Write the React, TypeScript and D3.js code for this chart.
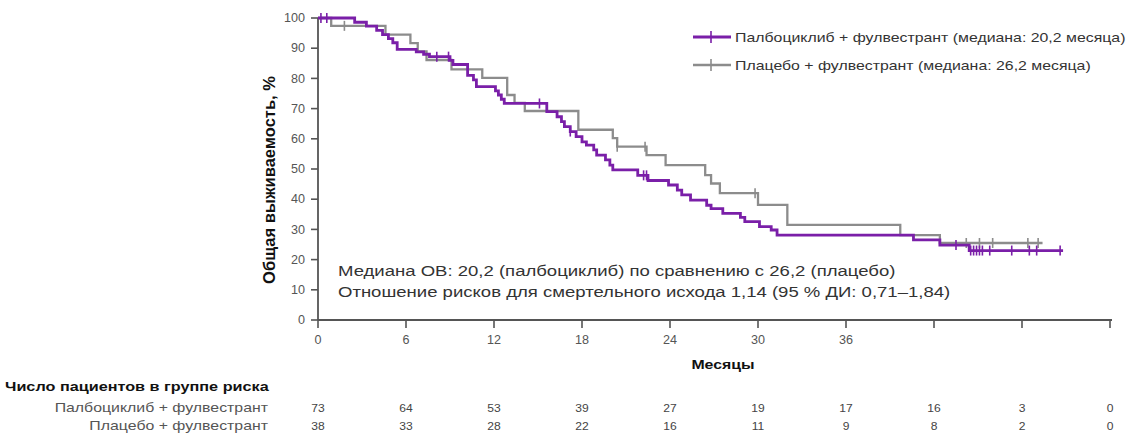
import React from 'react';
import * as d3 from 'd3';

// Kaplan-Meier steps (month, survival %)
const palboTimes = [0, 2.5, 3.3, 4.0, 4.4, 4.8, 5.1, 5.4, 6.7, 7.2, 7.6, 9.0, 9.2, 10.2, 10.6, 10.8, 12.1, 12.3, 12.5, 12.7, 15.6, 16.3, 16.6, 16.8, 17.2, 17.6, 18.0, 18.3, 18.8, 19.0, 19.6, 19.9, 20.1, 21.8, 22.5, 23.9, 24.5, 24.8, 25.4, 26.5, 26.8, 27.6, 28.8, 29.1, 30.1, 30.9, 31.3, 40.6, 42.4, 44.4, 50.8];
const palboSurv = [100, 98.6, 97.3, 95.9, 94.5, 93.2, 91.8, 89.6, 88.8, 88.0, 87.2, 86.0, 84.6, 81.0, 79.5, 77.3, 75.9, 74.5, 73.1, 71.7, 69.0, 67.3, 65.7, 64.0, 62.4, 60.7, 59.0, 57.9, 56.3, 54.6, 53.0, 51.3, 49.7, 47.9, 46.2, 44.7, 43.0, 41.4, 39.7, 38.0, 36.9, 35.3, 34.0, 32.6, 30.9, 29.8, 28.1, 26.5, 24.8, 23.0, 23.0];
const palboCensor = [0.2, 0.6, 8.1, 8.9, 15.1, 17.2, 22.2, 22.4, 43.5, 44.5, 44.7, 44.9, 45.1, 45.3, 45.8, 47.3, 48.5, 49.0, 50.6];

const placeboTimes = [0, 0.9, 4.6, 6.3, 6.8, 7.4, 9.1, 11.2, 12.9, 13.4, 14.1, 17.75, 20.1, 20.4, 22.4, 23.7, 26.4, 26.8, 27.4, 30.0, 32.0, 39.7, 42.4, 49.4];
const placeboSurv = [100, 97.4, 94.5, 91.7, 88.9, 86.1, 83.0, 80.2, 74.5, 71.9, 69.2, 63.0, 60.2, 57.4, 54.6, 51.3, 48.0, 45.2, 42.0, 38.1, 31.5, 28.1, 25.5, 25.5];
const placeboCensor = [1.8, 20.4, 22.3, 29.8, 44.2, 45.1, 46.0, 48.4, 49.1];

const xTicks = [0, 6, 12, 18, 24, 30, 36, 42, 48, 54];
const xTickLabels = ['0', '6', '12', '18', '24', '30', '36', '', '', ''];
const yTicks = [0, 10, 20, 30, 40, 50, 60, 70, 80, 90, 100];

const riskPalbo = [73, 64, 53, 39, 27, 19, 17, 16, 3, 0];
const riskPlacebo = [38, 33, 28, 22, 16, 11, 9, 8, 2, 0];

const seriesNames = [
  'Палбоциклиб + фулвестрант (медиана: 20,2 месяца)',
  'Плацебо + фулвестрант (медиана: 26,2 месяца)',
];
const rowNames = ['Палбоциклиб + фулвестрант', 'Плацебо + фулвестрант'];
const annotation = [
  'Медиана ОВ: 20,2 (палбоциклиб) по сравнению с 26,2 (плацебо)',
  'Отношение рисков для смертельного исхода 1,14 (95 % ДИ: 0,71–1,84)',
];

const PURPLE = '#7a1fa8';
const GREY = '#8c8c8c';
const FONT = 'Liberation Sans, Arial, sans-serif';
const SX = 1.22; // the picture's text is stretched sideways

// text stretched horizontally around its anchor point
const T = ({ x, y, sx = SX, children, ...rest }: any) => (
  <text transform={`translate(${x},${y}) scale(${sx},1)`} {...rest}>{children}</text>
);

const App = () => {
  const width = 1127;
  const height = 434;
  const x = d3.scaleLinear().domain([0, 54]).range([318, 1110]);
  const y = d3.scaleLinear().domain([0, 100]).range([320, 18]);

  const line = d3
    .line<[number, number]>()
    .x(d => x(d[0]))
    .y(d => y(d[1]))
    .curve(d3.curveStepAfter);

  const survAt = (times: number[], surv: number[], t: number) => {
    let s = surv[0];
    for (let i = 0; i < times.length; i++) if (times[i] <= t) s = surv[i];
    return s;
  };

  const series = [
    { times: placeboTimes, surv: placeboSurv, censor: placeboCensor, color: GREY, sw: 2.3 },
    { times: palboTimes, surv: palboSurv, censor: palboCensor, color: PURPLE, sw: 2.8 },
  ];

  return (
    <svg width={width} height={height} style={{ position: 'absolute', left: 0, top: 0, background: '#fff' }} fontFamily={FONT}>
      {/* y axis */}
      <line x1={318} x2={318} y1={y(100)} y2={y(0)} stroke="#555" strokeWidth={1.8} />
      {yTicks.map(t => (
        <g key={t}>
          <line x1={311} x2={318} y1={y(t)} y2={y(t)} stroke="#555" strokeWidth={1.6} />
          <T x={305} y={y(t)} sx={1.05} dy="0.35em" textAnchor="end" fontSize={12} fill="#555">{t}</T>
        </g>
      ))}
      <text transform="translate(275, 180) rotate(-90)" textAnchor="middle" fontSize={16.5} fontWeight="bold" fill="#111">
        Общая выживаемость, %
      </text>

      {/* x axis */}
      <line x1={x(0)} x2={x(54) + 2} y1={320} y2={320} stroke="#555" strokeWidth={1.8} />
      {xTicks.map((t, i) => (
        <g key={t}>
          <line x1={x(t)} x2={x(t)} y1={320} y2={328} stroke="#555" strokeWidth={1.6} />
          <T x={x(t)} y={344} sx={1.05} textAnchor="middle" fontSize={12} fill="#555">{xTickLabels[i]}</T>
        </g>
      ))}
      <T x={723} y={369} textAnchor="middle" fontSize={13} fontWeight="bold" fill="#111">Месяцы</T>

      {/* curves */}
      {series.map((s, k) => (
        <g key={k}>
          <path
            d={line(s.times.map((t, i) => [t, s.surv[i]] as [number, number])) || ''}
            fill="none"
            stroke={s.color}
            strokeWidth={s.sw}
          />
          {s.censor.map((c, j) => (
            <line
              key={j}
              x1={x(c)}
              x2={x(c)}
              y1={y(survAt(s.times, s.surv, c)) - 5}
              y2={y(survAt(s.times, s.surv, c)) + 5}
              stroke={s.color}
              strokeWidth={1.6}
            />
          ))}
        </g>
      ))}

      {/* annotation */}
      {annotation.map((a, i) => (
        <T key={i} x={338} y={276 + i * 21} fontSize={15.2} fill="#333">{a}</T>
      ))}

      {/* legend */}
      {seriesNames.map((n, i) => {
        const c = i === 0 ? PURPLE : GREY;
        const ly = 37 + i * 28;
        return (
          <g key={i}>
            <line x1={693} x2={731} y1={ly} y2={ly} stroke={c} strokeWidth={i === 0 ? 2.8 : 2.3} />
            <line x1={711} x2={711} y1={ly - 6} y2={ly + 6} stroke={c} strokeWidth={1.6} />
            <T x={735} y={ly} dy="0.35em" fontSize={13} fill="#333">{n}</T>
          </g>
        );
      })}

      {/* risk table */}
      <T x={5} y={391} fontSize={13.3} fontWeight="bold" fill="#111">Число пациентов в группе риска</T>
      {[riskPalbo, riskPlacebo].map((row, r) => (
        <g key={r}>
          <T x={268} y={412 + r * 18} textAnchor="end" fontSize={13} fill="#555">{rowNames[r]}</T>
          {row.map((v, i) => (
            <T key={i} x={x(xTicks[i])} y={412 + r * 18} sx={1.05} textAnchor="middle" fontSize={11.5} fill="#444">{v}</T>
          ))}
        </g>
      ))}
    </svg>
  );
};

export default App;
